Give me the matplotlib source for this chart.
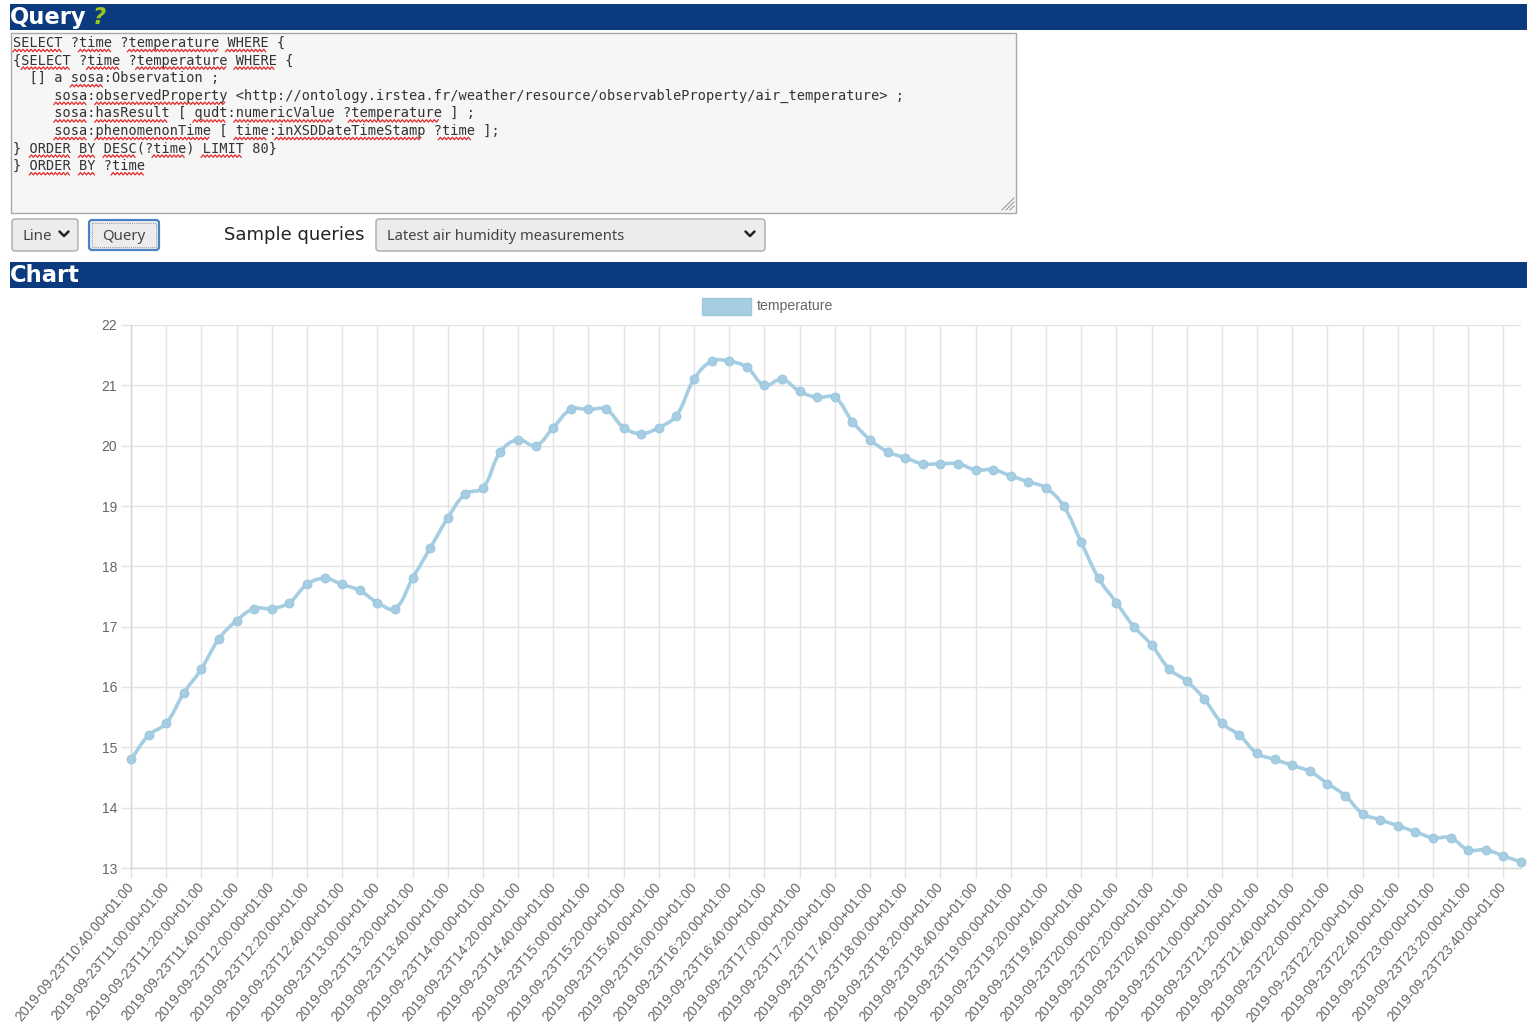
import re
import numpy as np
import pandas as pd
import matplotlib
matplotlib.use("Agg")
import matplotlib.pyplot as plt
from matplotlib.patches import Rectangle, FancyBboxPatch, PathPatch
from matplotlib.path import Path

# ---------------- data ----------------
times = pd.date_range("2019-09-23 10:40", periods=80, freq="10min")
time_labels = [t.strftime("%Y-%m-%dT%H:%M:%S+01:00") for t in times]
temperature = [14.8, 15.2, 15.4, 15.9, 16.3, 16.8, 17.1, 17.3, 17.3, 17.4,
               17.7, 17.8, 17.7, 17.6, 17.4, 17.3, 17.8, 18.3, 18.8, 19.2,
               19.3, 19.9, 20.1, 20.0, 20.3, 20.6, 20.6, 20.6, 20.3, 20.2,
               20.3, 20.5, 21.1, 21.4, 21.4, 21.3, 21.0, 21.1, 20.9, 20.8,
               20.8, 20.4, 20.1, 19.9, 19.8, 19.7, 19.7, 19.7, 19.6, 19.6,
               19.5, 19.4, 19.3, 19.0, 18.4, 17.8, 17.4, 17.0, 16.7, 16.3,
               16.1, 15.8, 15.4, 15.2, 14.9, 14.8, 14.7, 14.6, 14.4, 14.2,
               13.9, 13.8, 13.7, 13.6, 13.5, 13.5, 13.3, 13.3, 13.2, 13.1]
y_ticks = [13, 14, 15, 16, 17, 18, 19, 20, 21, 22]
series_name = "temperature"

query_lines = [
    "SELECT ?time ?temperature WHERE {",
    "{SELECT ?time ?temperature WHERE {",
    "  [] a sosa:Observation ;",
    "     sosa:observedProperty <http://ontology.irstea.fr/weather/resource/observableProperty/air_temperature> ;",
    "     sosa:hasResult [ qudt:numericValue ?temperature ] ;",
    "     sosa:phenomenonTime [ time:inXSDDateTimeStamp ?time ];",
    "} ORDER BY DESC(?time) LIMIT 80}",
    "} ORDER BY ?time",
]
misspelled = {"SELECT", "time", "temperature", "WHERE", "sosa", "observedProperty",
              "hasResult", "qudt", "numericValue", "phenomenonTime",
              "inXSDDateTimeStamp", "ORDER", "BY", "DESC", "LIMIT"}

# ---------------- figure ----------------
W, H = 1527, 1026
fig = plt.figure(figsize=(W / 100, H / 100), dpi=100)
fig.patch.set_facecolor("white")

ui = fig.add_axes([0, 0, 1, 1], zorder=0)
ui.set_xlim(0, W)
ui.set_ylim(H, 0)
ui.axis("off")

NAVY = "#0b3a7e"
SANS = ["Liberation Sans", "DejaVu Sans"]

# Query header
ui.add_patch(Rectangle((10, 4), W - 10, 26, facecolor=NAVY, edgecolor="none"))
ui.text(10, 17.5, "Query", color="white", fontsize=16.3, fontweight="bold",
        family="DejaVu Sans", va="center", ha="left")
ui.text(93, 17.5, "?", color="#9bc31c", fontsize=16.3, fontweight="bold",
        fontstyle="italic", family="DejaVu Sans", va="center", ha="left")

# textarea
ui.add_patch(Rectangle((10.5, 32.5), 1005, 180, facecolor="#f6f6f6",
                       edgecolor="#a8a8a8", lw=1))
for k in range(3):
    off = 4 + k * 4
    ui.plot([1014 - off, 1014], [210, 210 - off], color="#9a9a9a", lw=0.8)

CW = 8.18
x0_code = 13
for i, line in enumerate(query_lines):
    yc = 43 + i * 17.6
    ui.text(x0_code, yc, line, family="DejaVu Sans Mono", fontsize=9.78,
            color="#333333", va="center", ha="left")
    for m in re.finditer(r"\w+", line):
        if m.group(0) in misspelled:
            xs0 = x0_code + m.start() * CW
            xs1 = x0_code + m.end() * CW
            xs = np.arange(xs0, xs1 + 0.1, 2.0)
            ys = yc + 7.5 + np.where(np.arange(len(xs)) % 2 == 0, 1.2, -1.2)
            ui.plot(xs, ys, color="#e02b2b", lw=0.9)

# buttons row
def button(x, y, w, h, edge="#a9a9a9", lw=1.0):
    ui.add_patch(FancyBboxPatch((x, y), w, h,
                                boxstyle="round,pad=0,rounding_size=3",
                                facecolor="#ececec", edgecolor=edge, lw=lw))

def chevron(cx, cy):
    ui.plot([cx - 4.5, cx, cx + 4.5], [cy - 2.5, cy + 2, cy - 2.5],
            color="#222222", lw=1.8, solid_capstyle="round",
            solid_joinstyle="round")

button(12, 219, 66, 32)
ui.text(22, 236, "Line", family="Noto Sans", fontsize=10.8, color="#444444",
        va="center", ha="left")
chevron(64, 234)

button(89, 220, 70, 30, edge="#4b82c3", lw=1.6)
ui.add_patch(Rectangle((92, 223), 64, 24, facecolor="none", edgecolor="#777777",
                       lw=0.6, ls=(0, (1, 1.5))))
ui.text(124, 236, "Query", family="Noto Sans", fontsize=10.8, color="#444444",
        va="center", ha="center")

ui.text(224, 235, "Sample queries", family="DejaVu Sans", fontsize=13.0,
        color="#222222", va="center", ha="left")
button(376, 219, 389, 32)
ui.text(387, 236, "Latest air humidity measurements", family="Noto Sans",
        fontsize=10.6, color="#444444", va="center", ha="left")
chevron(750, 234)

# Chart header
ui.add_patch(Rectangle((10, 262), W - 10, 26, facecolor=NAVY, edgecolor="none"))
ui.text(10, 275, "Chart", color="white", fontsize=16.3, fontweight="bold",
        family="DejaVu Sans", va="center", ha="left")

# legend
LINE_COLOR = "#a6cee3"
ui.add_patch(Rectangle((702, 298), 49, 17, facecolor=LINE_COLOR,
                       edgecolor="#9cc7df", lw=1))
ui.text(757, 306, series_name, family=SANS, fontsize=10.2, color="#666666",
        va="center", ha="left")

# ---------------- chart axes ----------------
left, right, top, bottom = 131, 1521, 325, 868
ax = fig.add_axes([left / W, 1 - bottom / H, (right - left) / W, (bottom - top) / H],
                  zorder=1)
ax.patch.set_alpha(0)
x = np.arange(len(temperature))
ax.set_xlim(0, len(temperature) - 1)
ax.set_ylim(min(y_ticks), max(y_ticks))

GRID = "#e3e3e3"
ax.set_yticks(y_ticks)
ax.set_yticklabels([str(v) for v in y_ticks])
tick_idx = list(range(0, len(time_labels), 2))
ax.set_xticks(tick_idx)
ax.set_xticklabels([time_labels[i] for i in tick_idx], rotation=50,
                   ha="right", va="center", rotation_mode="anchor")
ax.grid(True, color=GRID, lw=1)
ax.tick_params(axis="both", colors=GRID, labelcolor="#666666", labelsize=10,
               length=7, width=1)
ax.tick_params(axis="x", pad=5)
ax.tick_params(axis="y", pad=3)
for lab in ax.get_xticklabels() + ax.get_yticklabels():
    lab.set_family(SANS)
for s in ["top", "right"]:
    ax.spines[s].set_visible(False)
for s in ["left", "bottom"]:
    ax.spines[s].set_color("#d6d6d6")
    ax.spines[s].set_linewidth(1)

# smooth line (Chart.js-style bezier with tension 0.4)
pts = ax.transData.transform(np.column_stack([x, temperature]))
n = len(pts)
tension = 0.4
cp_prev = np.zeros_like(pts)
cp_next = np.zeros_like(pts)
for i in range(n):
    p0 = pts[i - 1] if i > 0 else pts[i]
    p1 = pts[i]
    p2 = pts[i + 1] if i < n - 1 else pts[i]
    d01 = np.hypot(*(p1 - p0))
    d12 = np.hypot(*(p2 - p1))
    tot = d01 + d12
    s01 = d01 / tot if tot else 0
    s12 = d12 / tot if tot else 0
    cp_prev[i] = p1 - tension * s01 * (p2 - p0)
    cp_next[i] = p1 + tension * s12 * (p2 - p0)
inv = ax.transData.inverted()
verts = [pts[0]]
codes = [Path.MOVETO]
for i in range(1, n):
    verts += [cp_next[i - 1], cp_prev[i], pts[i]]
    codes += [Path.CURVE4] * 3
verts = inv.transform(np.array(verts))
ax.add_patch(PathPatch(Path(verts, codes), facecolor="none",
                       edgecolor=LINE_COLOR, lw=2.6, clip_on=False, zorder=3))
ax.plot(x, temperature, ls="none", marker="o", ms=6.3, color=LINE_COLOR,
        markeredgecolor="#9cc7df", markeredgewidth=0.8, clip_on=False, zorder=4)

fig.savefig("out.png", dpi=100, facecolor="white")
